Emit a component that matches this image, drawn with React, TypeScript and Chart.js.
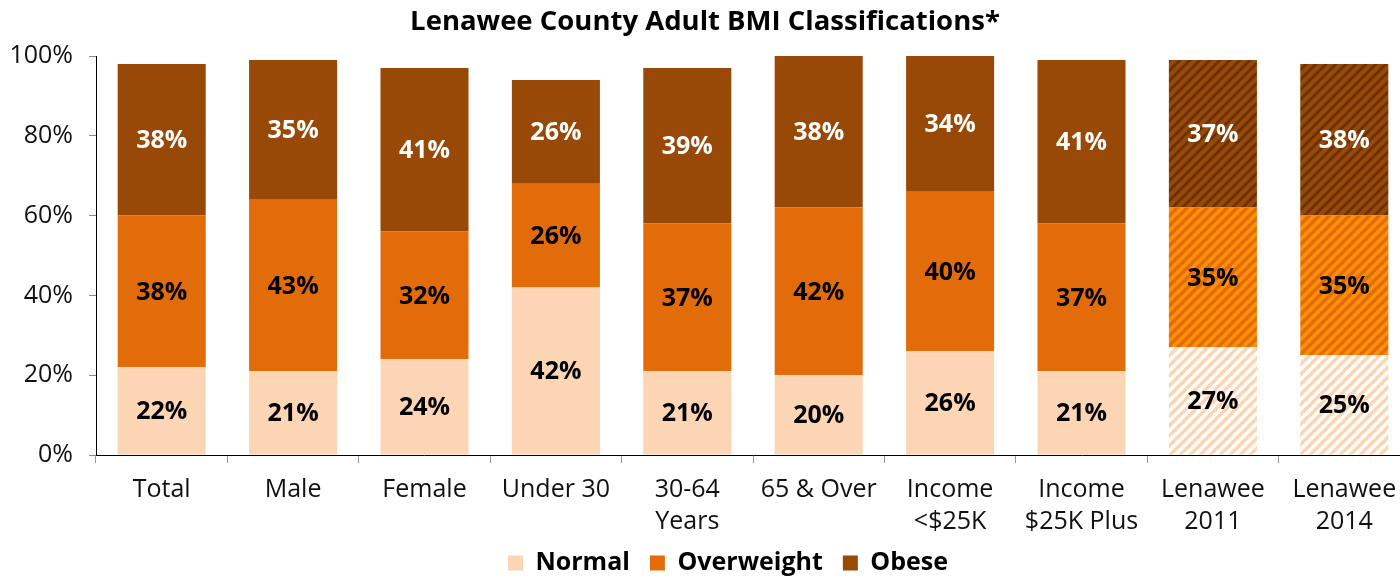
import { useEffect, useRef } from "react";
import { Chart, registerables } from "chart.js";

Chart.register(...registerables);

const categories: (string | string[])[] = [
  "Total",
  "Male",
  "Female",
  "Under 30",
  ["30-64", "Years"],
  "65 & Over",
  ["Income", "<$25K"],
  ["Income", "$25K Plus"],
  ["Lenawee", "2011"],
  ["Lenawee", "2014"],
];
const normalValues = [22, 21, 24, 42, 21, 20, 26, 21, 27, 25];
const overweightValues = [38, 43, 32, 26, 37, 42, 40, 37, 35, 35];
const obeseValues = [38, 35, 41, 26, 39, 38, 34, 41, 37, 38];
const hatchedCategories = [false, false, false, false, false, false, false, false, true, true];
const seriesNames = ["Normal", "Overweight", "Obese"];
const yTickValues = [0, 20, 40, 60, 80, 100];

const COLORS = ["#FCD5B5", "#E36C0A", "#984807"];
const STRIPES = ["#FFFFFF", "#FF9000", "#6A3204"];
const STRIPE_WIDTHS = [3.6, 3.6, 2.8];
const LABEL_COLORS = ["#000000", "#000000", "#FFFFFF"];
const FONT = "'Open Sans', 'Noto Sans', sans-serif";

function makePattern(base: string, stripe: string, lw: number): CanvasPattern | string {
  const s = 10;
  const c = document.createElement("canvas");
  c.width = s;
  c.height = s;
  const g = c.getContext("2d");
  if (!g) return base;
  g.fillStyle = base;
  g.fillRect(0, 0, s, s);
  g.strokeStyle = stripe;
  g.lineWidth = lw;
  for (const k of [-s, 0, s]) {
    g.beginPath();
    g.moveTo(k - 2, s + 2);
    g.lineTo(k + s + 2, -2);
    g.stroke();
  }
  const p = g.createPattern(c, "repeat");
  return p || base;
}

const labelPlugin = {
  id: "segmentLabels",
  afterDatasetsDraw(chart: any) {
    const ctx = chart.ctx;
    ctx.save();
    ctx.font = `bold 25px ${FONT}`;
    ctx.textAlign = "center";
    ctx.textBaseline = "middle";
    chart.data.datasets.forEach((ds: any, di: number) => {
      const meta = chart.getDatasetMeta(di);
      if (meta.hidden) return;
      meta.data.forEach((el: any, i: number) => {
        const v = ds.data[i];
        const cy = (el.y + el.base) / 2;
        ctx.fillStyle = LABEL_COLORS[di];
        ctx.fillText(`${v}%`, el.x, cy + 1);
      });
    });
    ctx.restore();
  },
};

// nudges the legend box to where the reference places it
const legendShiftPlugin = {
  id: "legendShift",
  afterLayout(chart: any) {
    const lg = chart.legend;
    if (!lg) return;
    lg.left += 23;
    lg.right += 23;
    lg.top -= 7.5;
    lg.bottom -= 7.5;
  },
};

export default function App() {
  const ref = useRef<HTMLCanvasElement>(null);

  useEffect(() => {
    if (!ref.current) return;
    const seriesValues = [normalValues, overweightValues, obeseValues];
    const datasets = seriesValues.map((vals, si) => {
      const pat = makePattern(COLORS[si], STRIPES[si], STRIPE_WIDTHS[si]);
      return {
        label: seriesNames[si],
        data: vals,
        backgroundColor: hatchedCategories.map((h) => (h ? pat : COLORS[si])),
        borderWidth: 0,
        barPercentage: 0.67,
        categoryPercentage: 1,
      };
    });

    const chart = new Chart(ref.current, {
      type: "bar",
      data: { labels: categories, datasets: datasets as any },
      options: {
        animation: false,
        responsive: false,
        maintainAspectRatio: false,
        layout: { padding: 0 },
        font: { family: FONT },
        plugins: {
          title: {
            display: true,
            text: "Lenawee County Adult BMI Classifications*",
            color: "#000",
            font: { family: FONT, size: 27.5, weight: "bold", lineHeight: 1.2 },
            padding: { top: 6, bottom: 17 },
          },
          legend: {
            position: "bottom",
            labels: {
              color: "#000",
              font: { family: FONT, size: 25, weight: "bold" },
              boxWidth: 15,
              boxHeight: 15,
              padding: 20,
              generateLabels: () =>
                seriesNames.map((n, i) => ({
                  text: n,
                  fillStyle: COLORS[i],
                  strokeStyle: COLORS[i],
                  lineWidth: 0,
                  hidden: false,
                  datasetIndex: i,
                  fontColor: "#000",
                })),
            },
          },
          tooltip: { enabled: false },
        },
        scales: {
          x: {
            stacked: true,
            afterFit: (scale: any) => {
              scale.height = 83;
            },
            grid: {
              drawOnChartArea: false,
              drawTicks: true,
              tickLength: 8,
              color: "#999",
              offset: true,
            },
            border: { color: "#000", width: 1 },
            ticks: {
              color: "#111",
              font: { family: FONT, size: 25, lineHeight: 1.28 },
              padding: 11,
              maxRotation: 0,
              autoSkip: false,
            },
          },
          y: {
            stacked: true,
            min: 0,
            max: 100,
            afterBuildTicks: (scale: any) => {
              scale.ticks = yTickValues.map((v) => ({ value: v }));
            },
            afterFit: (scale: any) => {
              scale.width = 96;
            },
            grid: {
              drawOnChartArea: false,
              drawTicks: true,
              tickLength: 7,
              color: "#888",
            },
            border: { color: "#000", width: 1 },
            ticks: {
              color: "#111",
              font: { family: FONT, size: 25 },
              padding: 16,
              callback: (v: any) => `${v}%`,
            },
          },
        },
      },
      plugins: [labelPlugin, legendShiftPlugin],
    });
    return () => chart.destroy();
  }, []);

  return (
    <div
      style={{
        position: "fixed",
        left: 0,
        top: 0,
        width: 1400,
        height: 578,
        overflow: "hidden",
        background: "#fff",
      }}
    >
      <canvas ref={ref} width={1410} height={593} style={{ width: 1410, height: 593, display: "block" }} />
    </div>
  );
}
